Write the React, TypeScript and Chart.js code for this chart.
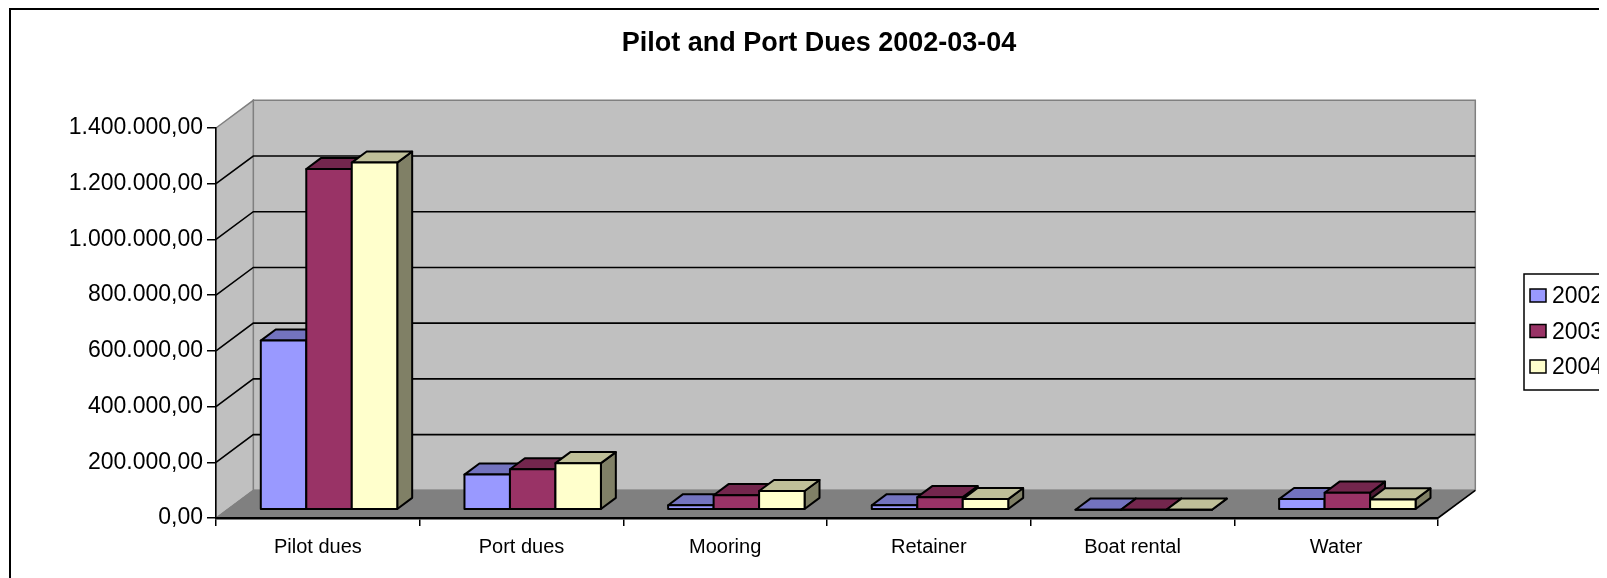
import React, { useEffect, useRef } from 'react';
import { Chart, registerables } from 'chart.js';

Chart.register(...registerables);

// ---- data ----
const categories = ['Pilot dues', 'Port dues', 'Mooring', 'Retainer', 'Boat rental', 'Water'];
const seriesLabels = ['2002', '2003', '2004'];
const values2002 = [607000, 126000, 16000, 16000, 0, 38000];
const values2003 = [1223000, 145000, 52000, 45000, 0, 61000];
const values2004 = [1246000, 167000, 67000, 38000, 0, 37000];
const yMin = 0;
const yMax = 1400000;
const yStep = 200000;
const titleText = 'Pilot and Port Dues 2002-03-04';

// ---- style ----
const FONT = "'Liberation Sans', Arial, sans-serif";
const frontColors = ['#9999ff', '#993366', '#ffffcc'];
const DX = 37.3;
const DY = -27.7;
const F0 = 0.3;
const F1 = 0.7;

function shade(hex: string, k: number): string {
  const n = parseInt(hex.slice(1), 16);
  const r = Math.round(((n >> 16) & 255) * k);
  const g = Math.round(((n >> 8) & 255) * k);
  const b = Math.round((n & 255) * k);
  return `rgb(${r},${g},${b})`;
}

function fmt(v: number): string {
  const s = Math.round(v).toString().replace(/\B(?=(\d{3})+(?!\d))/g, '.');
  return s + ',00';
}

function poly(ctx: CanvasRenderingContext2D, pts: number[][], fill: string | null, stroke: string | null, lw = 1) {
  ctx.beginPath();
  ctx.moveTo(pts[0][0], pts[0][1]);
  for (let i = 1; i < pts.length; i++) ctx.lineTo(pts[i][0], pts[i][1]);
  ctx.closePath();
  if (fill) {
    ctx.fillStyle = fill;
    ctx.fill();
  }
  if (stroke) {
    ctx.strokeStyle = stroke;
    ctx.lineWidth = lw;
    ctx.stroke();
  }
}

const plugin3d = {
  id: 'plot3d',
  beforeDraw(chart: any) {
    const { ctx } = chart;
    const { left: L, right: R, top: T, bottom: B } = chart.chartArea;
    const ys = chart.scales.y;
    ctx.save();
    // outer frame
    ctx.fillStyle = '#000';
    ctx.fillRect(1, 0, chart.width, 2);
    ctx.fillRect(1, 0, 2, chart.height);
    // back wall
    poly(ctx, [[L + DX, T + DY], [R + DX, T + DY], [R + DX, B + DY], [L + DX, B + DY]], '#c0c0c0', '#808080', 1.5);
    // side wall
    poly(ctx, [[L, T], [L + DX, T + DY], [L + DX, B + DY], [L, B]], '#c0c0c0', '#808080', 1.5);
    // floor
    poly(ctx, [[L, B], [R, B], [R + DX, B + DY], [L + DX, B + DY]], '#808080', '#808080', 1);
    // gridlines
    ctx.strokeStyle = '#000';
    ctx.lineWidth = 1.6;
    ys.ticks.forEach((t: any) => {
      if (t.value <= ys.min || t.value >= ys.max) return;
      const y = ys.getPixelForValue(t.value);
      ctx.beginPath();
      ctx.moveTo(L, y);
      ctx.lineTo(L + DX, y + DY);
      ctx.lineTo(R + DX, y + DY);
      ctx.stroke();
    });
    // floor right edge
    ctx.beginPath();
    ctx.moveTo(R, B);
    ctx.lineTo(R + DX, B + DY);
    ctx.stroke();
    ctx.restore();
  },
  beforeDatasetsDraw(chart: any) {
    const { ctx } = chart;
    const n = chart.data.labels.length;
    const fx0 = F0 * DX, fy0 = F0 * DY, fx1 = F1 * DX, fy1 = F1 * DY;
    ctx.save();
    ctx.lineJoin = 'round';
    for (let j = 0; j < n; j++) {
      chart.data.datasets.forEach((ds: any, i: number) => {
        const meta = chart.getDatasetMeta(i);
        const el = meta.data[j];
        if (!el) return;
        const { x, y, base, width } = el.getProps(['x', 'y', 'base', 'width'], true);
        const x0 = x - width / 2;
        const x1 = x + width / 2;
        const c = ds.backgroundColor as string;
        // side
        poly(ctx, [[x1 + fx0, y + fy0], [x1 + fx1, y + fy1], [x1 + fx1, base + fy1], [x1 + fx0, base + fy0]], shade(c, 0.5), '#000', 2);
        // top
        poly(ctx, [[x0 + fx0, y + fy0], [x1 + fx0, y + fy0], [x1 + fx1, y + fy1], [x0 + fx1, y + fy1]], shade(c, 0.75), '#000', 2);
        // front
        poly(ctx, [[x0 + fx0, y + fy0], [x1 + fx0, y + fy0], [x1 + fx0, base + fy0], [x0 + fx0, base + fy0]], c, '#000', 2);
      });
    }
    ctx.restore();
    return false;
  },
  afterDraw(chart: any) {
    const { ctx } = chart;
    const bx = 1516, by = 266, bw = 110, bh = 116;
    ctx.save();
    ctx.fillStyle = '#fff';
    ctx.fillRect(bx, by, bw, bh);
    ctx.strokeStyle = '#000';
    ctx.lineWidth = 1.5;
    ctx.strokeRect(bx, by, bw, bh);
    ctx.font = `23px ${FONT}`;
    ctx.textBaseline = 'middle';
    ctx.textAlign = 'left';
    chart.data.datasets.forEach((ds: any, i: number) => {
      const sy = 281 + i * 35.5;
      ctx.fillStyle = ds.backgroundColor;
      ctx.fillRect(1522, sy, 16, 13);
      ctx.strokeStyle = '#000';
      ctx.lineWidth = 1.5;
      ctx.strokeRect(1522, sy, 16, 13);
      ctx.fillStyle = '#000';
      ctx.fillText(ds.label, 1544, sy + 8);
    });
    ctx.restore();
  },
};

export default function App() {
  const ref = useRef<HTMLCanvasElement | null>(null);

  useEffect(() => {
    document.documentElement.style.overflow = 'hidden';
    document.body.style.overflow = 'hidden';
    if (!ref.current) return;
    const allValues = [values2002, values2003, values2004];
    const chart = new Chart(ref.current, {
      type: 'bar',
      data: {
        labels: categories,
        datasets: seriesLabels.map((lab, i) => ({
          label: lab,
          data: allValues[i],
          backgroundColor: frontColors[i],
          borderColor: '#000',
          borderWidth: 2,
          categoryPercentage: 0.67,
          barPercentage: 1.0,
        })),
      },
      options: {
        responsive: false,
        animation: false,
        events: [],
        layout: { padding: { left: 0, right: 0, top: 0, bottom: 0 } },
        plugins: {
          legend: { display: false },
          tooltip: { enabled: false },
          title: {
            display: true,
            text: titleText,
            color: '#000',
            font: { family: FONT, size: 27, weight: 'bold' },
            padding: { top: 19.8, bottom: 67.8 },
          },
        },
        scales: {
          x: {
            offset: true,
            grid: {
              display: true,
              drawOnChartArea: false,
              drawTicks: true,
              tickLength: 8,
              color: '#000',
              lineWidth: 1.5,
              offset: true,
            },
            border: { display: true, color: '#000', width: 2.5 },
            ticks: {
              color: '#000',
              font: { family: FONT, size: 20 },
              padding: 9,
              maxRotation: 0,
              autoSkip: false,
            },
            afterFit: (s: any) => {
              s.height = 60;
            },
          },
          y: {
            min: yMin,
            max: yMax,
            grid: {
              display: true,
              drawOnChartArea: false,
              drawTicks: true,
              tickLength: 9,
              color: '#000',
              lineWidth: 1.5,
            },
            border: { display: true, color: '#000', width: 1.5 },
            ticks: {
              stepSize: yStep,
              color: '#000',
              font: { family: FONT, size: 23 },
              padding: 4,
              callback: (v: any) => fmt(Number(v)),
            },
            afterFit: (s: any) => {
              s.width = 208;
            },
          },
          legendSpace: {
            type: 'linear',
            position: 'right',
            display: true,
            grid: { display: false },
            border: { display: false },
            ticks: { display: false },
            afterFit: (s: any) => {
              s.width = 192;
            },
          },
        },
      },
      plugins: [plugin3d],
    });
    return () => chart.destroy();
  }, []);

  return (
    <div style={{ width: 1599, height: 570, overflow: 'hidden' }}>
      <canvas ref={ref} width={1622} height={570} style={{ display: 'block', width: 1622, height: 570 }} />
    </div>
  );
}
